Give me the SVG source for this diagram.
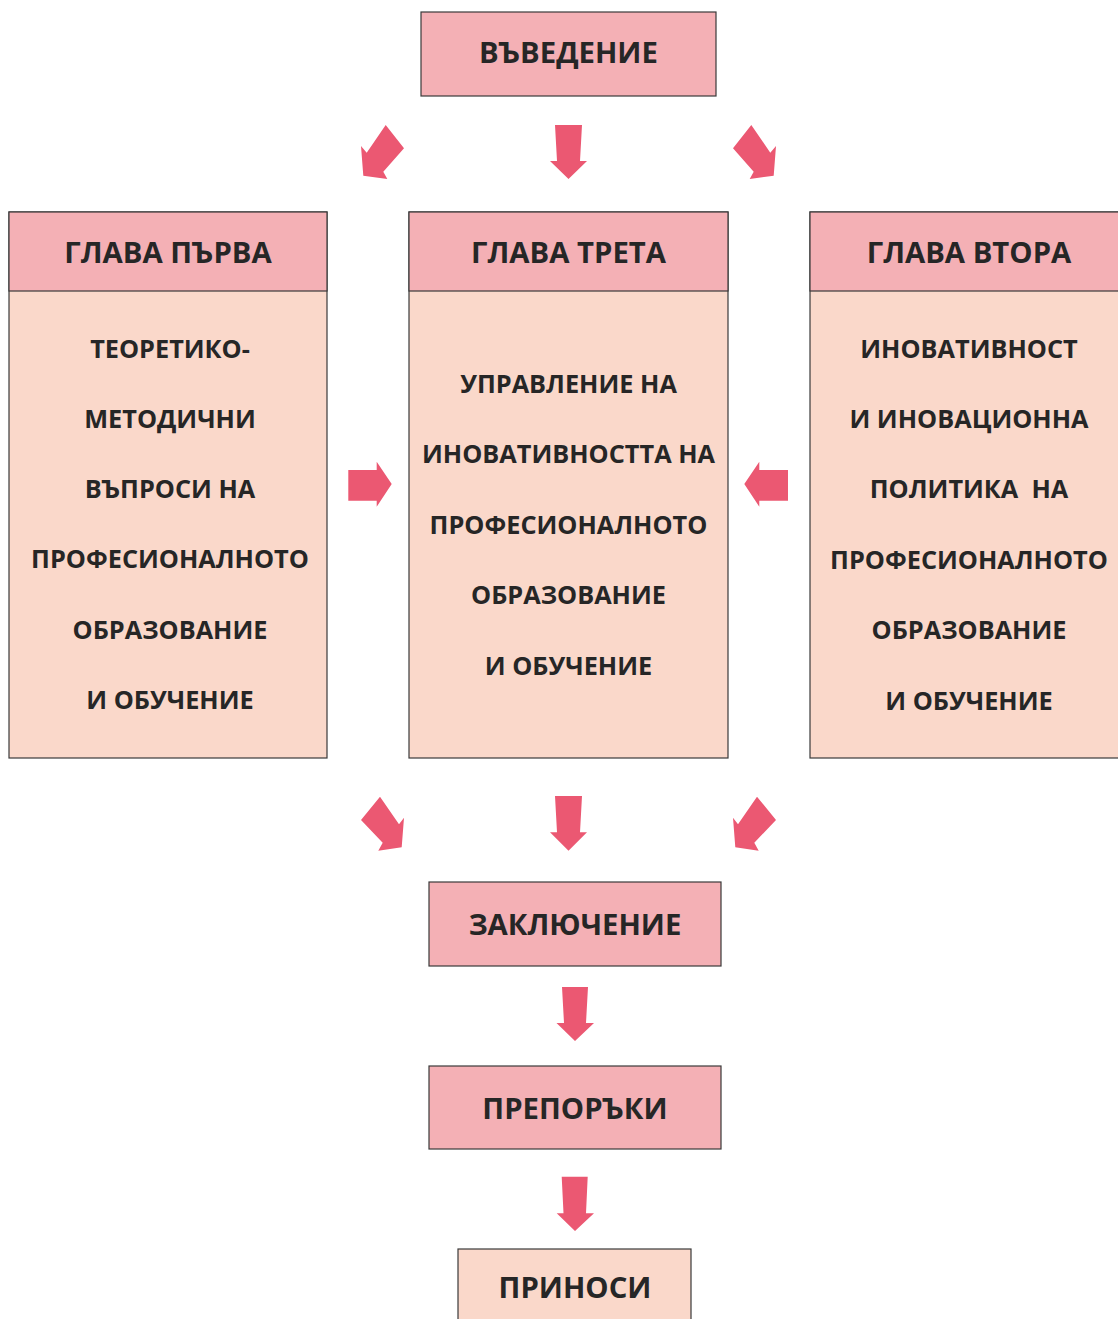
<svg xmlns="http://www.w3.org/2000/svg" width="1118" height="1319" viewBox="0 0 1118 1319">
<style>
.hd{fill:#F4B0B5;stroke:#3a3a3a;stroke-width:1.2}
.bd{fill:#FAD8CA;stroke:#3a3a3a;stroke-width:1.2}
.t{font-family:"Open Sans","DejaVu Sans",sans-serif;font-weight:bold;fill:#262626;text-anchor:middle}
.tt{font-size:29.3px}
.tb{font-size:25.3px}
.ar{fill:#EB5872}
</style>
<rect width="1118" height="1319" fill="#ffffff"/>
<g id="intro">
<rect class="hd" x="421" y="12" width="295" height="84"/>
<text class="t tt" x="568.5" y="63">ВЪВЕДЕНИЕ</text>
</g>
<g id="ch1">
<rect class="bd" x="9" y="212" width="318" height="546"/>
<rect class="hd" x="9" y="212" width="318" height="79"/>
<text class="t tt" x="168" y="262.5">ГЛАВА ПЪРВА</text>
<text class="t tb" x="170" y="358">ТЕОРЕТИКО-</text>
<text class="t tb" x="170" y="428">МЕТОДИЧНИ</text>
<text class="t tb" x="170" y="498">ВЪПРОСИ НА</text>
<text class="t tb" x="170" y="568">ПРОФЕСИОНАЛНОТО</text>
<text class="t tb" x="170" y="639">ОБРАЗОВАНИЕ</text>
<text class="t tb" x="170" y="709">И ОБУЧЕНИЕ</text>
</g>
<g id="ch3">
<rect class="bd" x="409" y="212" width="319" height="546"/>
<rect class="hd" x="409" y="212" width="319" height="79"/>
<text class="t tt" x="568.5" y="262.5">ГЛАВА ТРЕТА</text>
<text class="t tb" x="568.5" y="393">УПРАВЛЕНИЕ НА</text>
<text class="t tb" x="568.5" y="463">ИНОВАТИВНОСТТА НА</text>
<text class="t tb" x="568.5" y="534">ПРОФЕСИОНАЛНОТО</text>
<text class="t tb" x="568.5" y="604">ОБРАЗОВАНИЕ</text>
<text class="t tb" x="568.5" y="675">И ОБУЧЕНИЕ</text>
</g>
<g id="ch2">
<rect class="bd" x="810" y="212" width="318" height="546"/>
<rect class="hd" x="810" y="212" width="318" height="79"/>
<text class="t tt" x="969" y="262.5">ГЛАВА ВТОРА</text>
<text class="t tb" x="969" y="358">ИНОВАТИВНОСТ</text>
<text class="t tb" x="969" y="428">И ИНОВАЦИОННА</text>
<text class="t tb" x="969" y="498" xml:space="preserve">ПОЛИТИКА  НА</text>
<text class="t tb" x="969" y="569">ПРОФЕСИОНАЛНОТО</text>
<text class="t tb" x="969" y="639">ОБРАЗОВАНИЕ</text>
<text class="t tb" x="969" y="710">И ОБУЧЕНИЕ</text>
</g>
<g id="conclusion">
<rect class="hd" x="429" y="882" width="292" height="84"/>
<text class="t tt" x="575" y="935">ЗАКЛЮЧЕНИЕ</text>
</g>
<g id="recommendations">
<rect class="hd" x="429" y="1066" width="292" height="83"/>
<text class="t tt" x="575" y="1119">ПРЕПОРЪКИ</text>
</g>
<g id="contributions">
<rect class="bd" x="458" y="1249" width="233" height="80"/>
<text class="t tt" x="575" y="1298">ПРИНОСИ</text>
</g>
<g id="connectors">
<polygon class="ar" points="385.7,125 404,148.3 383.3,171.7 387.3,179 363.3,175.7 361,146 366.7,152.7"/>
<polygon class="ar" points="555,125 582,125 580,161 587,161 568.5,179 550,161 557,161"/>
<polygon class="ar" points="751.3,125 733,148.3 753.7,171.7 749.7,179 773.7,175.7 776,146 770.3,152.7"/>
<polygon class="ar" points="348.3,470 376.7,470 376.7,461.7 391.7,484 376.7,506.7 376.7,500.7 348.3,500.7"/>
<polygon class="ar" points="788,470 759.3,470 759.3,461.7 744.3,484 759.3,506.7 759.3,500.7 788,500.7"/>
<polygon class="ar" points="380,796.7 361,820 382.7,842.7 378.3,850.7 401.7,847.3 404,817.7 399,824.3"/>
<polygon class="ar" points="555,796 582,796 580,832.3 587,832.3 568.5,850.7 550,832.3 557,832.3"/>
<polygon class="ar" points="757,796.7 776,820 754.3,842.7 758.7,850.7 735.3,847.3 733,817.7 738,824.3"/>
<polygon class="ar" points="562,987 588,987 586,1023 594,1023 575,1041 556.5,1023 564,1023"/>
<polygon class="ar" points="561.7,1176.7 587.7,1176.7 586,1213.3 594,1213.3 575,1231 556.7,1213.3 563.5,1213.3"/>
</g>
</svg>
